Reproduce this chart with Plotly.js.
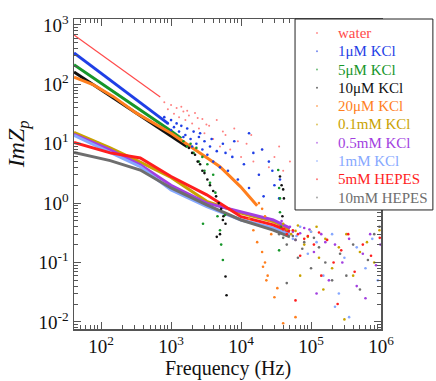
<!DOCTYPE html>
<html>
<head>
<meta charset="utf-8">
<script src="https://cdn.plot.ly/plotly-3.0.1.min.js"></script>
<style>
  body { margin: 0; background: #fff; }
  #plot { width: 436px; height: 381px; }
</style>
</head>
<body>
<div id="plot"></div>
<script>
// dense part of each curve (Hz, ImZp)
const waterF = [41, 100, 200, 400, 700]
const waterZ = [680, 316, 174, 97, 61]
const kcl1uF = [41, 100, 200, 400, 700, 900]
const kcl1uZ = [339, 155, 84, 46, 28, 22]
const kcl5uF = [41, 100, 300, 1000, 1400]
const kcl5uZ = [214, 105, 43, 16.3, 12.3]
const kcl10uF = [41, 100, 300, 1000, 1700]
const kcl10uZ = [162, 81, 35, 13.5, 8.9]
const kcl20uF = [41, 78, 150, 316, 1000, 2000, 5000, 9800, 17000]
const kcl20uZ = [132, 98, 62, 33, 15, 8.5, 4.1, 1.9, 0.9]
const kcl01mF = [41, 135, 363, 1000, 3236, 10000, 28840, 50000]
const kcl01mZ = [15.5, 8.5, 4.9, 2.7, 1.07, 0.68, 0.49, 0.37]
const kcl05mF = [41, 135, 363, 1000, 3236, 10000, 28840, 50000]
const kcl05mZ = [14.4, 7.9, 4.4, 2.0, 1.0, 0.72, 0.52, 0.38]
const kcl1mF = [41, 135, 363, 1000, 3236, 10000, 28840, 50000]
const kcl1mZ = [13.8, 7.2, 4.1, 1.66, 0.87, 0.52, 0.38, 0.3]
const hepes5F = [41, 135, 363, 1000, 3236, 10000, 28840, 50000]
const hepes5Z = [10.5, 7.0, 5.75, 2.8, 1.38, 0.59, 0.43, 0.33]
const hepes10F = [41, 135, 363, 1000, 3236, 10000, 28840, 50000]
const hepes10Z = [7.1, 5.2, 3.6, 1.8, 0.93, 0.52, 0.35, 0.27]

// scattered points at high frequency
const waterSF = [800, 900, 1000, 1100, 1200, 1300, 1500, 1600, 1800, 2000, 2200, 2500, 2800, 3000, 3500, 4000, 4500, 5000, 6000, 7000, 8000, 10000, 12000, 15000, 20000, 25000, 30000, 40000, 50000, 1400, 1700, 2400, 3200, 5500, 9000, 14000, 18000, 35000]
const waterSZ = [50, 38, 45, 32, 40, 28, 35, 25, 30, 22, 33, 18, 26, 15, 20, 12, 25, 9, 14, 8, 18, 6, 10, 5, 8, 4, 6, 3.5, 5, 42, 36, 27, 21, 16, 11, 14, 3, 9]
const kcl1uSF = [800, 900, 1000, 1100, 1200, 1300, 1400, 1600, 1700, 1900, 2100, 2300, 2500, 2800, 3000, 3300, 3600, 4000, 4500, 5000, 5500, 6500, 7500, 9000, 11000, 13000, 15000, 18000, 21000, 25000, 30000, 35000, 28000, 13000, 20000, 36000, 1000, 1500, 2000, 2600, 3800, 6000, 8000]
const kcl1uSZ = [28, 22, 25, 19, 22, 16, 20, 14, 18, 12, 16, 10, 13, 8, 11, 6.5, 9, 5, 7.5, 4, 10, 3.5, 6, 2.5, 4.5, 1.8, 7, 3, 1.3, 5, 2, 1.2, 3.5, 15, 8, 2.5, 17, 13, 9, 15, 12, 7, 11]
const kcl5uSF = [1500, 1700, 1900, 2100, 2300, 2500, 2800, 2860, 3000, 3300, 3600, 4000, 4300, 4600, 5000, 5200, 5500, 5900, 34000, 35000, 36000, 36000, 37000, 35000]
const kcl5uSZ = [11, 9, 10, 7, 8.5, 5, 6, 0.45, 3.5, 4.5, 2.2, 3, 1.5, 0.6, 0.35, 0.2, 0.11, 0.63, 3.6, 1.8, 1.2, 0.7, 0.4, 0.16]
const kcl10uSF = [1800, 2000, 2200, 2400, 2600, 2800, 3000, 3300, 3600, 4000, 4400, 4800, 5200, 5500, 5600, 6000, 5000, 4500, 6000, 6200, 36000, 38000, 40000, 41000, 39000]
const kcl10uSZ = [8.5, 7, 6.5, 5, 4.5, 3.5, 3.2, 2.5, 2, 1.6, 1.3, 1, 0.8, 0.52, 0.6, 0.45, 0.3, 0.27, 0.058, 0.028, 2.8, 2.0, 1.7, 1.2, 0.6]
const kcl20uSF = [18000, 20000, 22000, 25000, 15000, 17000, 20000, 20600, 22000, 23000, 24000, 27000, 30000, 33000, 40000, 60000, 13000]
const kcl20uSZ = [1.0, 0.8, 0.6, 0.5, 0.35, 0.22, 0.15, 0.085, 0.1, 0.05, 0.06, 0.3, 0.026, 0.037, 0.0095, 0.012, 0.55]
const kcl01mSF = [40000, 52000, 65000, 80000, 100000, 130000, 160000, 200000, 250000, 320000, 400000, 500000, 630000, 800000, 950000, 70000, 150000, 300000, 45000, 60000, 90000, 120000]
const kcl01mSZ = [0.45, 0.3, 0.42, 0.2, 0.33, 0.12, 0.25, 0.08, 0.18, 0.3, 0.06, 0.15, 0.22, 0.1, 0.35, 0.06, 0.035, 0.011, 0.36, 0.34, 0.27, 0.4]
const kcl05mSF = [38000, 50000, 60000, 80000, 110000, 140000, 180000, 220000, 280000, 350000, 450000, 550000, 700000, 850000, 980000, 120000, 600000, 55000, 70000, 95000, 160000]
const kcl05mSZ = [0.5, 0.4, 0.24, 0.38, 0.15, 0.3, 0.05, 0.2, 0.1, 0.25, 0.04, 0.14, 0.3, 0.09, 0.2, 0.03, 0.025, 0.33, 0.31, 0.36, 0.22]
const kcl1mSF = [40000, 55000, 70000, 90000, 120000, 150000, 200000, 250000, 300000, 350000, 450000, 600000, 750000, 900000, 220000, 62000, 100000]
const kcl1mSZ = [0.35, 0.25, 0.4, 0.14, 0.22, 0.06, 0.3, 0.03, 0.12, 0.012, 0.18, 0.08, 0.25, 0.05, 0.018, 0.28, 0.33]
const hepes5SF = [35000, 45000, 55000, 70000, 90000, 110000, 140000, 170000, 210000, 270000, 340000, 420000, 550000, 720000, 960000, 60000, 240000, 40000, 65000, 80000, 130000]
const hepes5SZ = [0.4, 0.3, 0.35, 0.13, 0.28, 0.2, 0.06, 0.24, 0.1, 0.16, 0.3, 0.07, 0.2, 0.13, 0.26, 0.023, 0.02, 0.36, 0.3, 0.25, 0.32]
const hepes10SF = [35000, 45000, 55000, 65000, 80000, 100000, 130000, 160000, 200000, 260000, 320000, 400000, 500000, 650000, 800000, 950000, 45000, 40000, 60000, 75000, 110000]
const hepes10SZ = [0.3, 0.2, 0.28, 0.12, 0.22, 0.08, 0.18, 0.1, 0.05, 0.14, 0.06, 0.2, 0.035, 0.11, 0.3, 0.4, 0.045, 0.26, 0.24, 0.17, 0.26]

const labels = ['water', '1μM KCl', '5μM KCl', '10μM KCl', '20μM KCl', '0.1mM KCl', '0.5mM KCl', '1mM KCl', '5mM HEPES', '10mM HEPES']
const colors = ['#ff4a4a', '#1f3fe6', '#16962a', '#111111', '#ff7f1e', '#c9a200', '#a23fe0', '#86a8ff', '#ff1e1e', '#6e6e6e']

const series = [
    [waterF, waterZ, waterSF, waterSZ],
    [kcl1uF, kcl1uZ, kcl1uSF, kcl1uSZ],
    [kcl5uF, kcl5uZ, kcl5uSF, kcl5uSZ],
    [kcl10uF, kcl10uZ, kcl10uSF, kcl10uSZ],
    [kcl20uF, kcl20uZ, kcl20uSF, kcl20uSZ],
    [kcl01mF, kcl01mZ, kcl01mSF, kcl01mSZ],
    [kcl05mF, kcl05mZ, kcl05mSF, kcl05mSZ],
    [kcl1mF, kcl1mZ, kcl1mSF, kcl1mSZ],
    [hepes5F, hepes5Z, hepes5SF, hepes5SZ],
    [hepes10F, hepes10Z, hepes10SF, hepes10SZ],
]

const lines = series.map((s, i) => ({
    x: s[0], y: s[1],
    type: 'scatter', mode: 'lines',
    line: { color: colors[i], width: i === 0 ? 1.2 : 3 },
    hoverinfo: 'skip',
}))

const dots = series.map((s, i) => ({
    x: s[2], y: s[3],
    type: 'scatter', mode: 'markers',
    marker: { color: colors[i], size: i === 0 ? 2 : 2.6, opacity: i === 0 ? 0.7 : 1 },
    name: labels[i],
}))

// legend drawn by hand: Plotly's own legend spaces the rows too far apart at this font size
const serif = 'Liberation Serif'
const legX0 = 0.72, legX1 = 1.169, legY0 = 0.384, legY1 = 1
const rowTop = 0.955, rowStep = 0.059
const legendShapes = [{
    type: 'rect', xref: 'paper', yref: 'paper',
    x0: legX0, x1: legX1, y0: legY0, y1: legY1,
    line: { color: '#222', width: 1 }, fillcolor: '#fff', layer: 'above',
}]
const legendNotes = []
labels.forEach((lab, i) => {
    const yy = rowTop - i * rowStep
    legendShapes.push({
        type: 'circle', xref: 'paper', yref: 'paper',
        xsizemode: 'pixel', ysizemode: 'pixel', xanchor: 0.7915, yanchor: yy,
        x0: -1, x1: 1, y0: -1, y1: 1,
        line: { width: 0 }, fillcolor: colors[i], opacity: 0.6, layer: 'above',
    })
    legendNotes.push({
        text: lab, xref: 'paper', yref: 'paper', x: 0.855, y: yy,
        xanchor: 'left', yanchor: 'middle', showarrow: false,
        font: { family: serif, size: 15, color: colors[i] },
    })
})

const axisCommon = {
    type: 'log',
    showline: true, linecolor: '#555', linewidth: 1.5,
    mirror: 'allticks',
    ticks: 'inside', ticklen: 7, tickcolor: '#555',
    showgrid: false, zeroline: false,
    tickfont: { family: serif, size: 19, color: '#111' },
    minor: { ticks: 'inside', ticklen: 4, tickcolor: '#555', dtick: 'D1', showgrid: false },
}

const layout = {
    width: 436, height: 381,
    margin: { l: 74, r: 55, t: 19, b: 52, autoexpand: false },
    paper_bgcolor: '#fff', plot_bgcolor: '#fff',
    font: { family: serif, color: '#111' },
    showlegend: false,
    xaxis: Object.assign({}, axisCommon, {
        range: [Math.log10(41), 6],
        tickvals: [100, 1000, 10000, 100000, 1000000],
        ticktext: ['10<sup>2</sup>', '10<sup>3</sup>', '10<sup>4</sup>', '10<sup>5</sup>', '10<sup>6</sup>'],
    }),
    yaxis: Object.assign({}, axisCommon, {
        range: [-2.12, 3.1],
        tickvals: [0.01, 0.1, 1, 10, 100, 1000],
        ticktext: ['10<sup>-2</sup>', '10<sup>-1</sup>', '10<sup>0</sup>', '10<sup>1</sup>', '10<sup>2</sup>', '10<sup>3</sup>'],
    }),
    annotations: [{
        text: '<i>ImZ<sub>p</sub></i>',
        xref: 'paper', yref: 'paper', x: -0.184, y: 0.594,
        xanchor: 'center', yanchor: 'middle',
        textangle: -90, showarrow: false,
        font: { family: serif, size: 24, color: '#111' },
    }, {
        text: 'Frequency (Hz)',
        xref: 'paper', yref: 'paper', x: 0.5, y: -0.129,
        xanchor: 'center', yanchor: 'middle', showarrow: false,
        font: { family: serif, size: 20, color: '#111' },
    }].concat(legendNotes),
    shapes: legendShapes,
}

Plotly.newPlot('plot', lines.concat(dots), layout, { staticPlot: true })
</script>
</body>
</html>
